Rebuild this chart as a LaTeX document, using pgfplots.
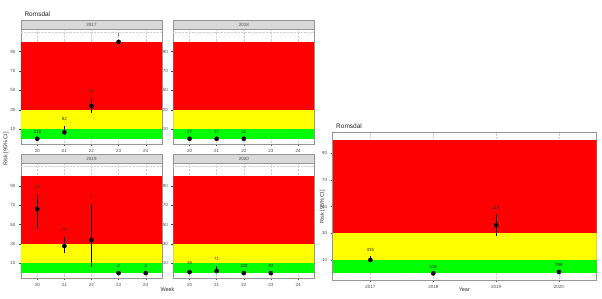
\documentclass[border=0pt]{standalone}
\usepackage{fontspec}
\setmainfont{Liberation Sans}
\usepackage{pgfplots}
\usepackage{pgfplotstable}
\pgfplotsset{compat=1.18}

\definecolor{bandred}{RGB}{255,0,0}
\definecolor{bandyel}{RGB}{255,255,0}
\definecolor{bandgrn}{RGB}{0,255,0}
\definecolor{stripfill}{RGB}{217,217,217}
\definecolor{bordergrey}{RGB}{150,150,150}
\definecolor{ticktxt}{RGB}{77,77,77}

\pgfplotstableread{
x y ep em ly lab
20 0 0 0 6.8 218
21 6.6 6.4 2.8 20.3 82
22 33.8 8.6 7.6 49.3 34
23 100 0 0 107 1
}\tA
\pgfplotstableread{
x y ep em ly lab
20 0 0 0 6.8 37
21 0 0 0 6.8 37
22 0 0 0 6.8 42
}\tB
\pgfplotstableread{
x y ep em ly lab
20 66.2 15.2 21.0 88.8 33
21 27.9 9.3 6.9 44.1 73
22 34.1 37.3 27.9 78.6 7
23 0 0 0 7 2
24 0 0 0 7 3
}\tC
\pgfplotstableread{
x y ep em ly lab
20 1.0 2.3 1.0 10.3 26
21 2.1 4.8 2.1 14.5 71
22 0 0 0 7 108
23 0 0 0 7.5 93
}\tD
\pgfplotstableread{
x y ep em ly lab
2017 10 3 1 17.3 335
2018 0 0 0 4.8 116
2019 36 8.3 8 48.8 118
2020 1 0.5 0.5 6.5 298
}\tE

\pgfplotsset{
 layers/gglayers/.define layer set={axis background,axis grid,pre main,main,axis ticks,axis lines,axis tick labels,axis descriptions,axis foreground}{},
 gg/.style={
   set layers=gglayers,
   scale only axis,
   axis line style={draw=bordergrey, line width=0.6pt},
   tick align=outside,
   major tick length=2pt,
   tick style={draw=gray!60!black, line width=0.4pt},
   xtick pos=bottom, ytick pos=left,
   ticklabel style={font=\fontsize{4.5}{5}\selectfont, text=ticktxt},
   /pgf/number format/assume math mode=true,
   /pgf/number format/1000 sep={},
   ytick={10,30,50,70,90},
   grid=major,
   major grid style={densely dotted, draw=gray!35, line width=0.4pt},
   clip=true,
 },
 facet/.style={gg, width=141pt, height=114.7pt, xmin=19.4, xmax=24.6, ymin=-5.4, ymax=113, xtick={20,...,24},
   extra y ticks={110}, extra y tick labels={}, extra y tick style={major tick length=0pt},
   every axis title shift=0pt,
   title style={at={(0.5,1)}, anchor=south, yshift=0pt, draw=bordergrey, fill=stripfill, line width=0.6pt,
     minimum width=141pt, minimum height=8.6pt, inner sep=0pt, font=\fontsize{4.5}{5}\selectfont, text=ticktxt}},
 pts/.style={only marks, mark=*, mark size=2.1pt, black,
   error bars/.cd, y dir=both, y explicit, error mark=none, error bar style={line width=0.9pt, black}},
 labs/.style={only marks, mark=none, nodes near coords, point meta=explicit symbolic,
   nodes near coords style={anchor=center, font=\fontsize{4.5}{5}\selectfont, text=black!80}},
}

\newcommand{\bands}[2]{%
  \addplot[draw=none, fill=bandred, forget plot] coordinates {(#1,30) (#2,30) (#2,100) (#1,100)} -- cycle;
  \addplot[draw=none, fill=bandyel, forget plot] coordinates {(#1,10) (#2,10) (#2,30) (#1,30)} -- cycle;
  \addplot[draw=none, fill=bandgrn, forget plot] coordinates {(#1,0) (#2,0) (#2,10) (#1,10)} -- cycle;
}

\begin{document}
\begin{tikzpicture}
\fill[white] (0pt,0pt) rectangle (602pt,299pt);

% 2017
\begin{axis}[facet, at={(21pt,155pt)}, anchor=south west, title={2017}]
\bands{19.4}{24.6}
\addplot[pts] table[x=x,y=y,y error plus=ep,y error minus=em]{\tA};
\addplot[labs] table[x=x,y=ly,meta=lab]{\tA};
\end{axis}
% 2018
\begin{axis}[facet, at={(173.3pt,155pt)}, anchor=south west, title={2018}]
\bands{19.4}{24.6}
\addplot[pts] table[x=x,y=y,y error plus=ep,y error minus=em]{\tB};
\addplot[labs] table[x=x,y=ly,meta=lab]{\tB};
\end{axis}
% 2019
\begin{axis}[facet, at={(21pt,20.7pt)}, anchor=south west, title={2019}]
\bands{19.4}{24.6}
\addplot[pts] table[x=x,y=y,y error plus=ep,y error minus=em]{\tC};
\addplot[labs] table[x=x,y=ly,meta=lab]{\tC};
\end{axis}
% 2020
\begin{axis}[facet, at={(173.3pt,20.7pt)}, anchor=south west, title={2020}]
\bands{19.4}{24.6}
\addplot[pts] table[x=x,y=y,y error plus=ep,y error minus=em]{\tD};
\addplot[labs] table[x=x,y=ly,meta=lab]{\tD};
\end{axis}

\node[anchor=base west, font=\fontsize{6.5}{7}\selectfont, text=black!85] at (21pt,282pt) {Romsdal};
\node[rotate=90, font=\fontsize{5.5}{6}\selectfont, text=black!80] at (6pt,150pt) {Risk [95\% CI]};
\node[font=\fontsize{5.5}{6}\selectfont, text=black!80] at (167.5pt,9.5pt) {Week};

% Right chart
\begin{axis}[gg, at={(332.7pt,19pt)}, anchor=south west, width=264pt, height=147.7pt,
  xmin=2016.4, xmax=2020.6, ymin=-5, ymax=105.5, xtick={2017,2018,2019,2020}]
\bands{2016.4}{2020.6}
\addplot[pts] table[x=x,y=y,y error plus=ep,y error minus=em]{\tE};
\addplot[labs] table[x=x,y=ly,meta=lab]{\tE};
\end{axis}
\node[anchor=base west, font=\fontsize{6.5}{7}\selectfont, text=black!85] at (332.7pt,170pt) {Romsdal};
\node[rotate=90, font=\fontsize{5.5}{6}\selectfont, text=black!80] at (322.5pt,92.3pt) {Risk [95\% CI]};
\node[font=\fontsize{5.5}{6}\selectfont, text=black!80] at (464.3pt,9pt) {Year};
\end{tikzpicture}
\end{document}
